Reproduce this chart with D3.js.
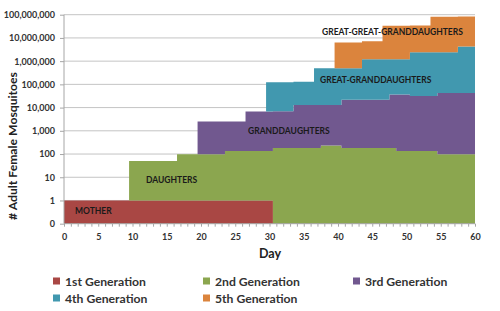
<!DOCTYPE html>
<html>
<head>
<meta charset="utf-8">
<script src="https://cdn.jsdelivr.net/npm/d3@7"></script>
<style>
  body { margin: 0; background: #fff; }
  text { font-family: Lato, "Open Sans", sans-serif; font-weight: bold; }
  .axis path, .axis line { stroke: #a6a6a6; }
  .axis text { fill: #333; font-size: 9px; }
</style>
</head>
<body>
<div id="chart"></div>
<script>
// step starts (day); last entry closes the chart
const days = [0, 9.5, 16.5, 19.5, 23.5, 26.5, 29.5, 30.5, 33.5, 36.5, 37.5, 39.5, 40.5, 43.5, 46.5, 47.5, 48.5, 50.5, 53.5, 54.5, 57.5, 60];

const gen1 = [1, 1, 1, 1, 1, 1, 1, 0, 0, 0, 0, 0, 0, 0, 0, 0, 0, 0, 0, 0, 0, 0];
const gen2 = [0, 49, 96, 96, 133, 133, 133, 181, 181, 181, 235, 235, 181, 181, 181, 181, 134, 134, 134, 97, 97, 97];
const gen3 = [0, 0, 0, 2400, 2400, 6700, 6700, 6700, 12800, 12800, 12800, 12800, 21400, 21400, 21400, 36300, 36300, 31500, 31500, 41900, 41900, 41900];
const gen4 = [0, 0, 0, 0, 0, 0, 116000, 116000, 117000, 477000, 477000, 477000, 468000, 1180000, 1180000, 1160000, 1160000, 2370000, 2370000, 2360000, 4260000, 4260000];
const gen5 = [0, 0, 0, 0, 0, 0, 0, 0, 0, 0, 0, 5900000, 5900000, 5900000, 32000000, 32000000, 32000000, 32000000, 80000000, 80000000, 80000000, 80000000];

const series_names = ['1st Generation', '2nd Generation', '3rd Generation', '4th Generation', '5th Generation'];
const series_labels = ['MOTHER', 'DAUGHTERS', 'GRANDDAUGHTERS', 'GREAT-GRANDDAUGHTERS', 'GREAT-GREAT-GRANDDAUGHTERS'];
const colors = ['#a94744', '#8ba64f', '#71588f', '#4198af', '#db843d'];

const y_ticks = [0.1, 1, 10, 100, 1e3, 1e4, 1e5, 1e6, 1e7, 1e8];
const y_tick_labels = ['0', '1', '10', '100', '1,000', '10,000', '100,000', '1,000,000', '10,000,000', '100,000,000'];
const x_ticks = [0, 5, 10, 15, 20, 25, 30, 35, 40, 45, 50, 55, 60];

const chart_width = 500;
const chart_height = 311;
const plot = { left: 64, right: 475, top: 14.7, bottom: 223.7 };

const svg = d3.select('#chart')
    .append('svg')
    .attr('width', chart_width)
    .attr('height', chart_height);

// Scales
const x_scale = d3.scaleLinear()
    .domain([0, 60])
    .range([plot.left, plot.right]);

const y_scale = d3.scaleLog()
    .domain([0.1, 1e8])
    .range([plot.bottom, plot.top]);

const y = v => y_scale(Math.max(v, 0.1));

// Gridlines
svg.append('g')
    .selectAll('line')
    .data(y_ticks.slice(1))
    .enter()
    .append('line')
    .attr('x1', plot.left)
    .attr('x2', plot.right)
    .attr('y1', d => y_scale(d))
    .attr('y2', d => y_scale(d))
    .attr('stroke', '#c4c4c4')
    .attr('stroke-width', 1);

// Stacked step areas
const keys = ['g1', 'g2', 'g3', 'g4', 'g5'];
const rows = days.map((d, i) => ({
    day: d, g1: gen1[i], g2: gen2[i], g3: gen3[i], g4: gen4[i], g5: gen5[i]
}));
const stacked = d3.stack().keys(keys)(rows);

const area = d3.area()
    .x(d => x_scale(d.data.day))
    .y0(d => y(d[0]))
    .y1(d => y(d[1]))
    .curve(d3.curveStepAfter);

svg.append('g')
    .selectAll('path')
    .data(stacked)
    .enter()
    .append('path')
    .attr('d', area)
    .attr('fill', (d, i) => colors[i]);

// Axes
const y_axis = d3.axisLeft(y_scale)
    .tickValues(y_ticks)
    .tickFormat((d, i) => y_tick_labels[i])
    .tickSize(4)
    .tickPadding(5);

svg.append('g')
    .classed('axis', true)
    .attr('transform', `translate(${plot.left}, 0)`)
    .call(y_axis)
    .call(g => g.select('.domain').attr('d', `M0,${plot.top}V${plot.bottom}`));

const x_minor = d3.axisBottom(x_scale)
    .tickValues(d3.range(0, 61))
    .tickFormat('')
    .tickSize(3);

svg.append('g')
    .classed('axis', true)
    .attr('transform', `translate(0, ${plot.bottom})`)
    .call(x_minor)
    .call(g => g.select('.domain').attr('d', `M${plot.left},0H${plot.right}`));

const x_axis = d3.axisBottom(x_scale)
    .tickValues(x_ticks)
    .tickSize(0)
    .tickPadding(10);

svg.append('g')
    .classed('axis', true)
    .attr('transform', `translate(0, ${plot.bottom})`)
    .call(x_axis)
    .call(g => g.select('.domain').remove());

// Axis titles
svg.append('text')
    .attr('x', 270)
    .attr('y', 258)
    .attr('text-anchor', 'middle')
    .attr('font-size', 12.5)
    .attr('fill', '#222')
    .text('Day');

svg.append('text')
    .attr('transform', 'translate(17, 146) rotate(-90)')
    .attr('text-anchor', 'middle')
    .attr('font-size', 12.2)
    .attr('fill', '#222')
    .text('# Adult Female Mosquitoes');

// Series labels inside the areas
const label_pos = [[75, 214], [146, 183], [248, 134], [320, 83], [322, 35]];
svg.append('g')
    .selectAll('text')
    .data(series_labels)
    .enter()
    .append('text')
    .attr('x', (d, i) => label_pos[i][0])
    .attr('y', (d, i) => label_pos[i][1])
    .attr('font-size', 8.5)
    .attr('fill', '#1a1a1a')
    .text(d => d);

// Legend
const legend_pos = [[53, 281], [203, 281], [353, 281], [53, 298], [203, 298]];
const legend = svg.append('g')
    .selectAll('g')
    .data(series_names)
    .enter()
    .append('g')
    .attr('transform', (d, i) => `translate(${legend_pos[i][0]}, ${legend_pos[i][1]})`);

legend.append('rect')
    .attr('x', 0)
    .attr('y', -3.5)
    .attr('width', 7)
    .attr('height', 7)
    .attr('fill', (d, i) => colors[i]);

legend.append('text')
    .attr('x', 12)
    .attr('y', 4.5)
    .attr('font-size', 12.2)
    .attr('fill', '#333')
    .text(d => d);
</script>
</body>
</html>
